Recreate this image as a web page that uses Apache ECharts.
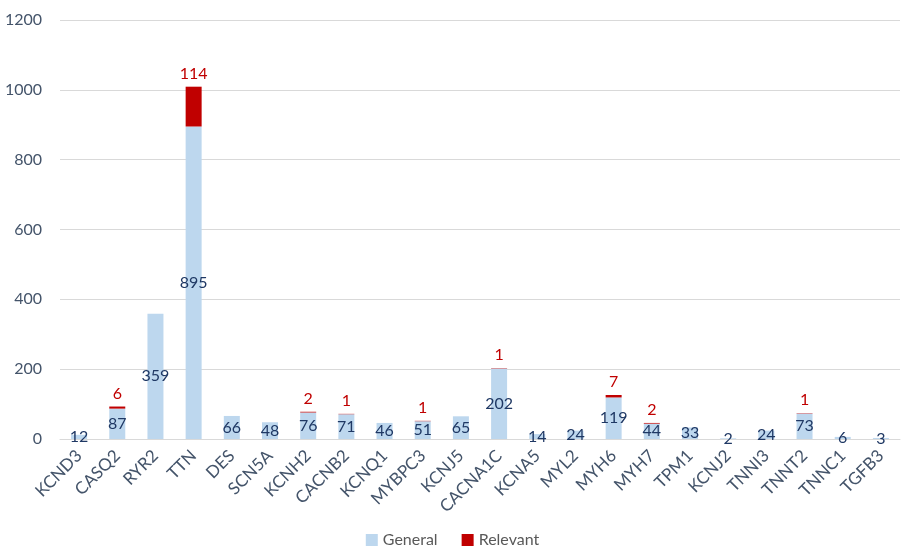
<!DOCTYPE html>
<html>
<head>
<meta charset="utf-8">
<script src="https://cdn.jsdelivr.net/npm/echarts@6/dist/echarts.min.js"></script>
<style>
  html, body { margin: 0; padding: 0; background: #fff; }
  #main { width: 905px; height: 553px; }
</style>
</head>
<body>
<div id="main"></div>
<script>
const genes = ['KCND3', 'CASQ2', 'RYR2', 'TTN', 'DES', 'SCN5A', 'KCNH2', 'CACNB2', 'KCNQ1', 'MYBPC3', 'KCNJ5',
    'CACNA1C', 'KCNA5', 'MYL2', 'MYH6', 'MYH7', 'TPM1', 'KCNJ2', 'TNNI3', 'TNNT2', 'TNNC1', 'TGFB3'];
const general = [12, 87, 359, 895, 66, 48, 76, 71, 46, 51, 65, 202, 14, 24, 119, 44, 33, 2, 24, 73, 6, 3];
const relevant = [0, 6, 0, 114, 0, 0, 2, 1, 0, 1, 0, 1, 0, 0, 7, 2, 0, 0, 0, 1, 0, 0];
const yTicks = [0, 200, 400, 600, 800, 1000, 1200];

const fontName = 'Lato';

let plot = echarts.init(document.querySelector('#main'));

const option = {
    textStyle: { fontFamily: fontName },
    animation: false,
    legend: {
        data: ['General', 'Relevant'],
        bottom: 0,
        itemWidth: 12,
        itemHeight: 12,
        itemGap: 24,
        icon: 'rect',
        textStyle: { fontFamily: fontName, fontSize: 16, color: '#595959' }
    },
    grid: { left: 60, right: 5, top: 20, bottom: 114 },
    xAxis: {
        type: 'category',
        data: genes,
        axisTick: { show: false },
        axisLine: { lineStyle: { color: '#D9D9D9' } },
        axisLabel: {
            rotate: 45,
            interval: 0,
            fontSize: 17,
            color: '#44546A',
            margin: 14
        }
    },
    yAxis: {
        type: 'value',
        min: yTicks[0],
        max: yTicks[yTicks.length - 1],
        interval: 200,
        axisLine: { show: false },
        axisTick: { show: false },
        splitLine: { lineStyle: { color: '#D9D9D9' } },
        axisLabel: { fontSize: 16, color: '#44546A', margin: 18, formatter: v => String(v) }
    },
    series: [{
        name: 'General',
        type: 'bar',
        stack: 'total',
        barWidth: 16,
        itemStyle: { color: '#BDD7EE' },
        label: {
            show: true,
            position: 'inside',
            fontSize: 16,
            color: '#1F3864'
        },
        data: general
    }, {
        name: 'Relevant',
        type: 'bar',
        stack: 'total',
        barWidth: 16,
        itemStyle: { color: '#C00000' },
        label: {
            show: true,
            position: 'top',
            distance: 5,
            fontSize: 16,
            color: '#C00000',
            formatter: p => p.value ? p.value : ''
        },
        data: relevant
    }]
};

plot.setOption(option);
</script>
</body>
</html>
